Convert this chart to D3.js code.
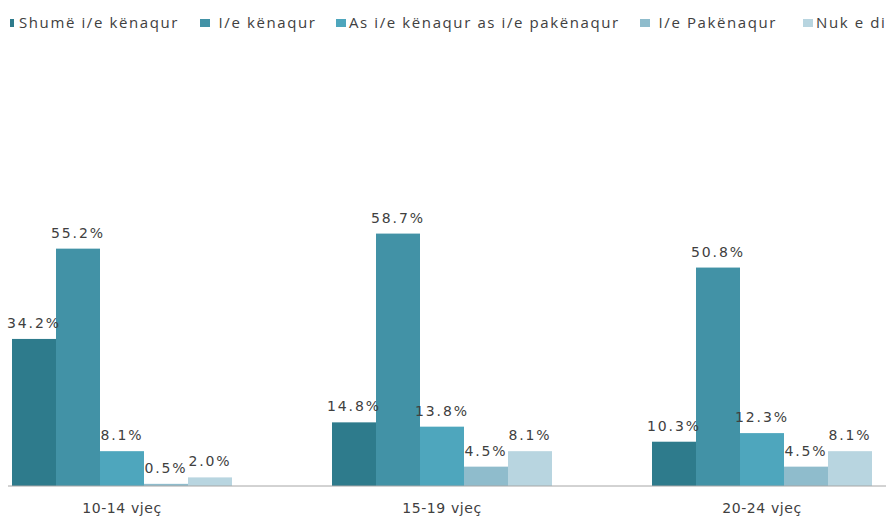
<!DOCTYPE html>
<html>
<head>
    <meta charset="utf-8">
    <title>Kënaqësia sipas moshës</title>
    <script src="https://d3js.org/d3.v7.min.js"></script>
    <style>
        body {
            margin: 0;
            background: #fff;
        }

        .legend text {
            font-family: "Open Sans", sans-serif;
            font-size: 15px;
            letter-spacing: 1.6px;
            fill: #404040;
        }

        .value {
            font-family: "DejaVu Sans", sans-serif;
            font-size: 14px;
            letter-spacing: 1.9px;
            fill: #404040;
        }

        .axis text {
            font-family: "DejaVu Sans", sans-serif;
            font-size: 14px;
            letter-spacing: 0.6px;
            fill: #404040;
        }
    </style>
</head>
<body>
    <svg id="chart" width="886" height="520"></svg>
    <script>
        // age groups and answers
        var categories = ["10-14 vjeç", "15-19 vjeç", "20-24 vjeç"];
        var series = ["Shumë i/e kënaqur", " I/e kënaqur", "As i/e kënaqur as i/e pakënaqur", " I/e Pakënaqur", "Nuk e di"];

        // percent per series, one value for each age group
        var shumeKenaqur = [34.2, 14.8, 10.3];
        var kenaqur = [55.2, 58.7, 50.8];
        var asAs = [8.1, 13.8, 12.3];
        var pakenaqur = [0.5, 4.5, 4.5];
        var nukEDi = [2.0, 8.1, 8.1];

        var values = [shumeKenaqur, kenaqur, asAs, pakenaqur, nukEDi];
        var colors = ["#2e7b8c", "#4292a6", "#4ea6bd", "#8fbccc", "#b8d5e0"];

        // legend layout (the legend is cut off at the right, like the original)
        var legendX = [10, 200, 336, 640, 803];

        var svg = d3.select("#chart");

        var x0 = d3.scaleBand()
            .domain(categories)
            .range([-38, 922])
            .paddingInner(0.3125)
            .paddingOuter(0.15625);

        var x1 = d3.scaleBand()
            .domain(d3.range(series.length))
            .range([0, x0.bandwidth()]);

        var y = d3.scaleLinear()
            .domain([0, 100])
            .range([486, 56]);

        var rows = [];
        values.forEach(function (vals, s) {
            vals.forEach(function (v, c) {
                rows.push({ s: s, cat: categories[c], v: v });
            });
        });

        svg.append("g")
            .selectAll("rect")
            .data(rows)
            .enter().append("rect")
            .attr("x", function (d) { return x0(d.cat) + x1(d.s); })
            .attr("y", function (d) { return y(d.v); })
            .attr("width", x1.bandwidth())
            .attr("height", function (d) { return y(0) - y(d.v); })
            .attr("fill", function (d) { return colors[d.s]; });

        svg.append("g")
            .selectAll("text")
            .data(rows)
            .enter().append("text")
            .attr("class", "value")
            .attr("x", function (d) { return x0(d.cat) + x1(d.s) + x1.bandwidth() / 2; })
            .attr("y", function (d) { return y(d.v) - 11; })
            .attr("text-anchor", "middle")
            .text(function (d) { return d.v.toFixed(1) + "%"; });

        var axis = svg.append("g")
            .attr("class", "axis")
            .attr("transform", "translate(0," + y(0) + ")")
            .call(d3.axisBottom(x0).tickSize(0).tickPadding(17));
        axis.select(".domain").remove();
        axis.append("line")
            .attr("x1", 8)
            .attr("x2", 886)
            .attr("stroke", "#a6a6a6")
            .attr("stroke-width", 1);

        var legend = svg.append("g")
            .attr("class", "legend")
            .selectAll("g")
            .data(series)
            .enter().append("g")
            .attr("transform", function (d, i) { return "translate(" + legendX[i] + ",19)"; });

        legend.append("rect")
            .attr("width", function (d, i) { return i === 0 ? 4 : 10; })
            .attr("height", 8)
            .attr("fill", function (d, i) { return colors[i]; });

        legend.append("text")
            .attr("x", function (d, i) { return i === 0 ? 9 : 13; })
            .attr("y", 9)
            .attr("xml:space", "preserve")
            .style("white-space", "pre")
            .text(function (d) { return d; });
    </script>
</body>
</html>
